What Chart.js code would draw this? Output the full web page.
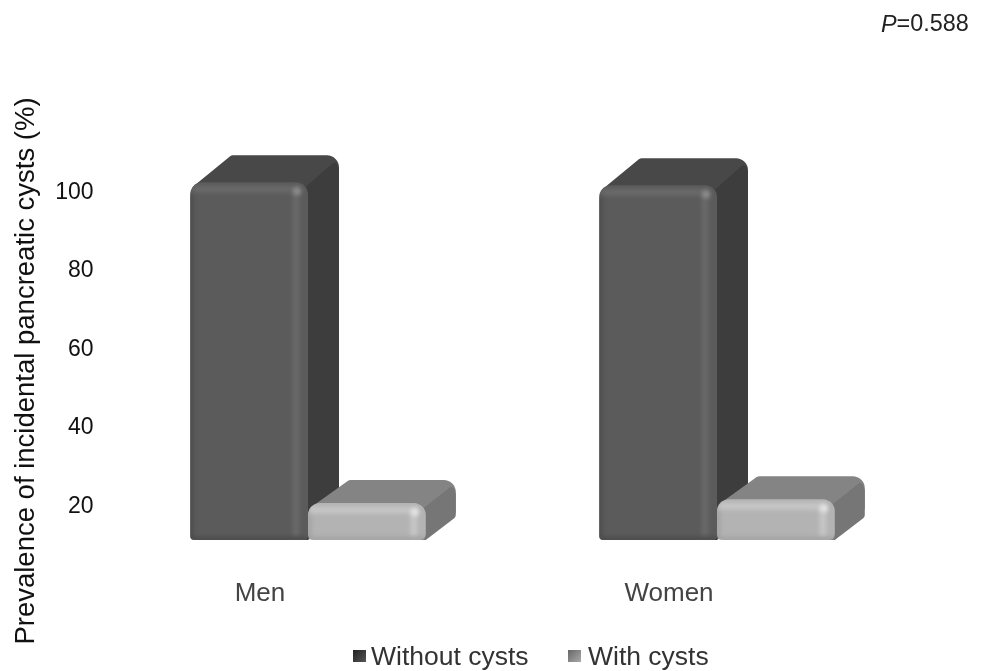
<!DOCTYPE html>
<html>
<head>
<meta charset="utf-8">
<script src="https://cdn.jsdelivr.net/npm/chart.js@4/dist/chart.umd.min.js"></script>
<style>
html, body { margin: 0; background: #fff; }
canvas { display: block; filter: blur(0.4px); }
#wrap { position: relative; width: 985px; height: 671px; }
#legend { position: absolute; left: 353px; top: 640px; height: 32px; color: #333;
    font: 26.5px/32px "Liberation Sans", Arial, sans-serif; white-space: nowrap; filter: blur(0.4px); }
#legend span { position: absolute; top: 0; }
#legend i { position: absolute; top: 10px; width: 13px; height: 12px; }
</style>
</head>
<body>
<div id="wrap">
<canvas id="cystChart" width="985" height="671"></canvas>
<div id="legend"></div>
</div>
<script>
const categories = ['Men', 'Women'];
const withoutCysts = [102.5, 101.8];
const withCysts = [20.9, 21.9];
const yTicks = [20, 40, 60, 80, 100];
const yTitle = 'Prevalence of incidental pancreatic cysts (%)';
const seriesNames = ['Without cysts', 'With cysts'];

const FONT = '"Liberation Sans", Arial, sans-serif';
const Y_MIN = 11.5;
const looks = [
    {front: '#5b5b5b', rim: '#696969', glint: '#8f8f8f', edge: '#4a4a4a', top: '#484848', side: '#3d3d3d', dx: 31, dy: 27, swatch: 'linear-gradient(135deg, #222, #555)', legendX: 0},
    {front: '#b3b3b3', rim: '#c6c6c6', glint: '#e6e6e6', edge: '#a0a0a0', top: '#848484', side: '#767676', dx: 30, dy: 23, swatch: 'linear-gradient(135deg, #666, #aaa)', legendX: 215}
];

// pts: [x, y, cornerRadius]
function roundedPoly(ctx, pts) {
    ctx.beginPath();
    const n = pts.length;
    ctx.moveTo((pts[n - 1][0] + pts[0][0]) / 2, (pts[n - 1][1] + pts[0][1]) / 2);
    for (let i = 0; i < n; i++) {
        const next = pts[(i + 1) % n];
        ctx.arcTo(pts[i][0], pts[i][1], next[0], next[1], pts[i][2]);
    }
    ctx.closePath();
}

// sides and top of the boxes, taken from where the bar elements ended up
const boxFaces = {
    id: 'boxFaces',
    beforeDatasetsDraw(chart) {
        const ctx = chart.ctx;
        [0, 1].forEach(i => {
            const look = looks[i];
            chart.getDatasetMeta(i).data.forEach(bar => {
                const l = bar.x - bar.width / 2, r = bar.x + bar.width / 2, t = bar.y, b = bar.base;
                const rx = r + look.dx, ty = t - look.dy;
                ctx.fillStyle = look.top;
                roundedPoly(ctx, [[l + 2, t + 5, 0], [l + 41, ty, 5], [rx, ty, 12], [rx, t + 10, 0], [r, t + 10, 0]]);
                ctx.fill();
                ctx.fillStyle = look.side;
                roundedPoly(ctx, [[r - 6, t + 8, 0], [rx - 3, ty + 5, 3], [rx, ty + 14, 3], [rx, b - look.dy, 4], [r, b, 0], [r - 6, b, 0]]);
                ctx.fill();
            });
        });
    },
    afterDatasetsDraw(chart) {
        const ctx = chart.ctx;
        [0, 1].forEach(i => {
            const look = looks[i];
            chart.getDatasetMeta(i).data.forEach(bar => {
                const l = bar.x - bar.width / 2, r = bar.x + bar.width / 2, t = bar.y, b = bar.base;
                ctx.save();
                ctx.beginPath();
                ctx.roundRect(l, t, bar.width, b - t, [12, 12, 4, 4]);
                ctx.clip();
                ctx.filter = 'blur(2px)';
                ctx.strokeStyle = look.rim;
                ctx.lineWidth = 7;
                ctx.beginPath();
                ctx.moveTo(l + 2, t + 7);
                ctx.lineTo(r - 12, t + 7);
                ctx.lineTo(r - 12, b - 3);
                ctx.stroke();
                ctx.strokeStyle = look.edge;
                ctx.lineWidth = 4;
                ctx.beginPath();
                ctx.moveTo(l + 1, t + 12);
                ctx.lineTo(l + 1, b - 1);
                ctx.lineTo(r, b - 1);
                ctx.stroke();
                ctx.fillStyle = look.glint;
                ctx.beginPath();
                ctx.arc(r - 11, t + 9, 4, 0, Math.PI * 2);
                ctx.fill();
                ctx.restore();
            });
        });
    }
};

// y title sits lower than the axis centre and the P value has an italic P
const extraText = {
    id: 'extraText',
    afterDraw(chart) {
        const ctx = chart.ctx;
        ctx.save();
        ctx.fillStyle = '#111';
        ctx.textBaseline = 'middle';
        ctx.font = '27.5px ' + FONT;
        ctx.translate(26, 371);
        ctx.rotate(-Math.PI / 2);
        ctx.textAlign = 'center';
        ctx.fillText(yTitle, 0, 0);
        ctx.restore();

        ctx.save();
        ctx.fillStyle = '#222';
        ctx.textBaseline = 'middle';
        ctx.font = 'italic 23.4px ' + FONT;
        ctx.fillText('P', 881, 25);
        const pw = ctx.measureText('P').width;
        ctx.font = '23.4px ' + FONT;
        ctx.fillText('=0.588', 881 + pw, 25);
        ctx.restore();
    }
};

const chart = new Chart(document.getElementById('cystChart'), {
    type: 'bar',
    data: {
        labels: categories,
        datasets: [
            {label: seriesNames[0], data: withoutCysts, backgroundColor: looks[0].front, base: Y_MIN, borderRadius: {topLeft: 12, topRight: 12, bottomLeft: 4, bottomRight: 4}, borderSkipped: false},
            {label: seriesNames[1], data: withCysts, backgroundColor: looks[1].front, base: Y_MIN, borderRadius: {topLeft: 12, topRight: 12, bottomLeft: 6, bottomRight: 6}, borderSkipped: false}
        ]
    },
    options: {
        responsive: false,
        animation: false,
        layout: {padding: {top: 113.6, right: 63.5, left: 0, bottom: 0}},
        datasets: {bar: {categoryPercentage: 0.576, barPercentage: 1}},
        scales: {
            x: {
                grid: {display: false},
                border: {display: false},
                afterFit(scale) {
                    scale.height = 131;
                },
                ticks: {
                    padding: 30,
                    labelOffset: -48,
                    maxRotation: 0,
                    autoSkip: false,
                    color: '#444',
                    font: {family: FONT, size: 26}
                }
            },
            y: {
                min: Y_MIN,
                max: 120,
                grid: {display: false},
                border: {display: false},
                afterFit(scale) {
                    scale.width = 103.5;
                },
                afterBuildTicks(scale) {
                    scale.ticks = yTicks.map(v => ({value: v}));
                },
                ticks: {
                    padding: 2,
                    color: '#111',
                    font: {family: FONT, size: 23}
                }
            }
        },
        plugins: {
            tooltip: {enabled: false},
            legend: {display: false}
        }
    },
    plugins: [boxFaces, extraText]
});

// html legend so the swatch to text gap can follow the picture
const legendBox = document.getElementById('legend');
chart.data.datasets.forEach((d, i) => {
    const mark = document.createElement('i');
    mark.style.left = looks[i].legendX + 'px';
    mark.style.background = looks[i].swatch;
    const text = document.createElement('span');
    text.style.left = looks[i].legendX + 18 + (i ? 2 : 0) + 'px';
    text.textContent = d.label;
    legendBox.append(mark, text);
});
</script>
</body>
</html>
